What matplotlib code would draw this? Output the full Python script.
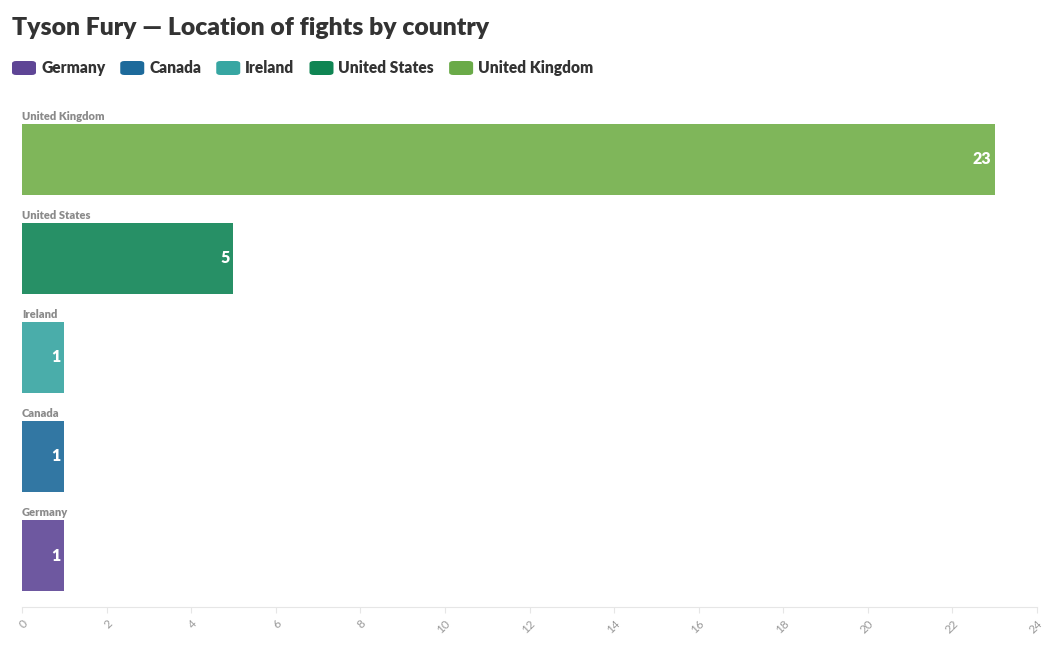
import matplotlib
matplotlib.use("Agg")
import matplotlib.pyplot as plt
from matplotlib.patches import FancyBboxPatch

countries = ["Germany", "Canada", "Ireland", "United States", "United Kingdom"]
fights = [1, 1, 1, 5, 23]
legend_colors = ["#5e4595", "#1d6a9b", "#37a6a2", "#0f8553", "#6aaa48"]
bar_colors = ["#6e58a0", "#3277a3", "#4aadaa", "#279066", "#7fb65a"]
xticks = list(range(0, 25, 2))
title = "Tyson Fury \u2014 Location of fights by country"

plt.rcParams['font.family'] = ['Lato', 'DejaVu Sans']

W, H = 1056, 650
fig = plt.figure(figsize=(W / 100, H / 100), dpi=100)

ax = fig.add_axes([22 / W, 1 - 607 / H, (1037 - 22) / W, (607 - 100) / H])
ypos = list(range(len(countries)))
bh = 0.717
ax.barh(ypos, fights, height=bh, color=bar_colors, edgecolor="none")
ax.set_xlim(0, 24)
ax.set_ylim(-0.52, len(countries) - 1 + 0.6)

for y, c, v in zip(ypos, countries, fights):
    ax.text(0, y + bh / 2 + 0.075, c, fontsize=8, fontweight="heavy", color="#8a8a8a",
            ha="left", va="center")
    ax.annotate(str(v), (v, y), xytext=(-2.5, 0), textcoords="offset points",
                ha="right", va="center", fontsize=11.5, fontweight="heavy", color="white")

for s in ["top", "right", "left"]:
    ax.spines[s].set_visible(False)
ax.spines["bottom"].set_color("#e6e6e6")
ax.set_yticks([])
ax.set_xticks(xticks)
ax.set_xticklabels([str(t) for t in xticks], rotation=45, ha="right", va="top",
                   rotation_mode="anchor", fontsize=8.5, color="#999999")
ax.tick_params(axis="x", length=4, color="#e6e6e6", pad=4)

fig.text(12 / W, 1 - 28 / H, title, fontsize=17.8, fontweight="heavy", color="#333333",
         ha="left", va="center")

# legend
x = 12
ly = 68
for c, col in zip(countries, legend_colors):
    patch = FancyBboxPatch((x / W, 1 - (ly + 7) / H), 24 / W, 14 / H,
                           boxstyle="round,pad=0,rounding_size=0.004",
                           transform=fig.transFigure, facecolor=col, edgecolor="none")
    fig.add_artist(patch)
    t = fig.text((x + 29) / W, 1 - ly / H, c, fontsize=11.2, fontweight="heavy",
                 color="#333333", ha="left", va="center")
    fig.canvas.draw()
    bb = t.get_window_extent()
    x = bb.x1 + 15

fig.savefig("out.png", dpi=100)
